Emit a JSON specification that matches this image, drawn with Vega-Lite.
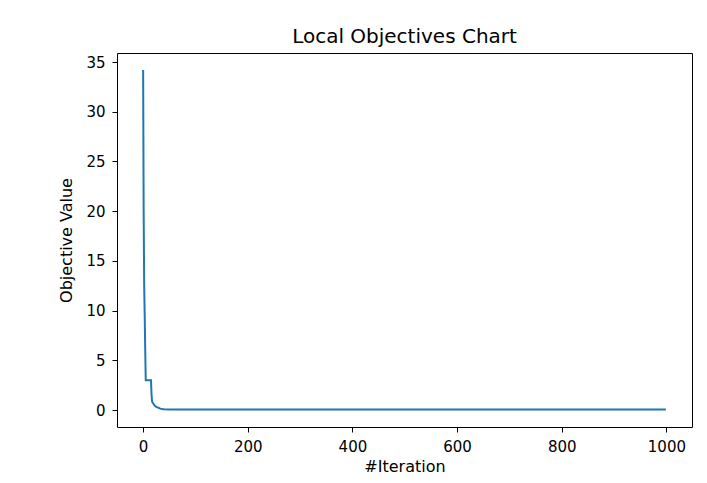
{
  "$schema": "https://vega.github.io/schema/vega-lite/v6.json",
  "width": 575,
  "height": 374,
  "autosize": {"type": "none"},
  "padding": {"left": 117, "top": 53, "right": 15, "bottom": 56},
  "background": "white",
  "title": {"text": "Local Objectives Chart", "font": "DejaVu Sans", "fontSize": 20, "fontWeight": "normal", "color": "#000000", "offset": 6},
  "config": {
    "view": {"stroke": "#000000", "strokeWidth": 1},
    "axis": {
      "grid": false,
      "domain": false,
      "tickColor": "#000000",
      "tickSize": 5,
      "tickWidth": 1,
      "labelFont": "DejaVu Sans",
      "labelFontSize": 15,
      "labelColor": "#000000",
      "titleFont": "DejaVu Sans",
      "titleFontSize": 16,
      "titleFontWeight": "normal",
      "titleColor": "#000000",
      "labelPadding": 7
    }
  },
  "data": {
    "values": [
      {"iteration": 0, "value": 34.2},
      {"iteration": 1, "value": 20.0},
      {"iteration": 2, "value": 12.5},
      {"iteration": 3, "value": 9.5},
      {"iteration": 4, "value": 6.0},
      {"iteration": 5, "value": 3.0},
      {"iteration": 15, "value": 3.0},
      {"iteration": 16, "value": 1.6},
      {"iteration": 17, "value": 0.9},
      {"iteration": 18, "value": 0.75},
      {"iteration": 20, "value": 0.6},
      {"iteration": 22, "value": 0.45},
      {"iteration": 25, "value": 0.32},
      {"iteration": 28, "value": 0.26},
      {"iteration": 30, "value": 0.2},
      {"iteration": 33, "value": 0.14},
      {"iteration": 36, "value": 0.1},
      {"iteration": 40, "value": 0.07},
      {"iteration": 50, "value": 0.05},
      {"iteration": 100, "value": 0.05},
      {"iteration": 999, "value": 0.05}
    ]
  },
  "mark": {"type": "line", "color": "#1f77b4", "strokeWidth": 2},
  "encoding": {
    "x": {
      "field": "iteration",
      "type": "quantitative",
      "title": "#Iteration",
      "scale": {"domain": [-49.95, 1048.95], "nice": false, "zero": false},
      "axis": {"values": [0, 200, 400, 600, 800, 1000], "format": "d", "titlePadding": 4}
    },
    "y": {
      "field": "value",
      "type": "quantitative",
      "title": "Objective Value",
      "scale": {"domain": [-1.71, 35.91], "nice": false, "zero": false},
      "axis": {"values": [0, 5, 10, 15, 20, 25, 30, 35], "format": "d", "titlePadding": 11}
    }
  }
}
